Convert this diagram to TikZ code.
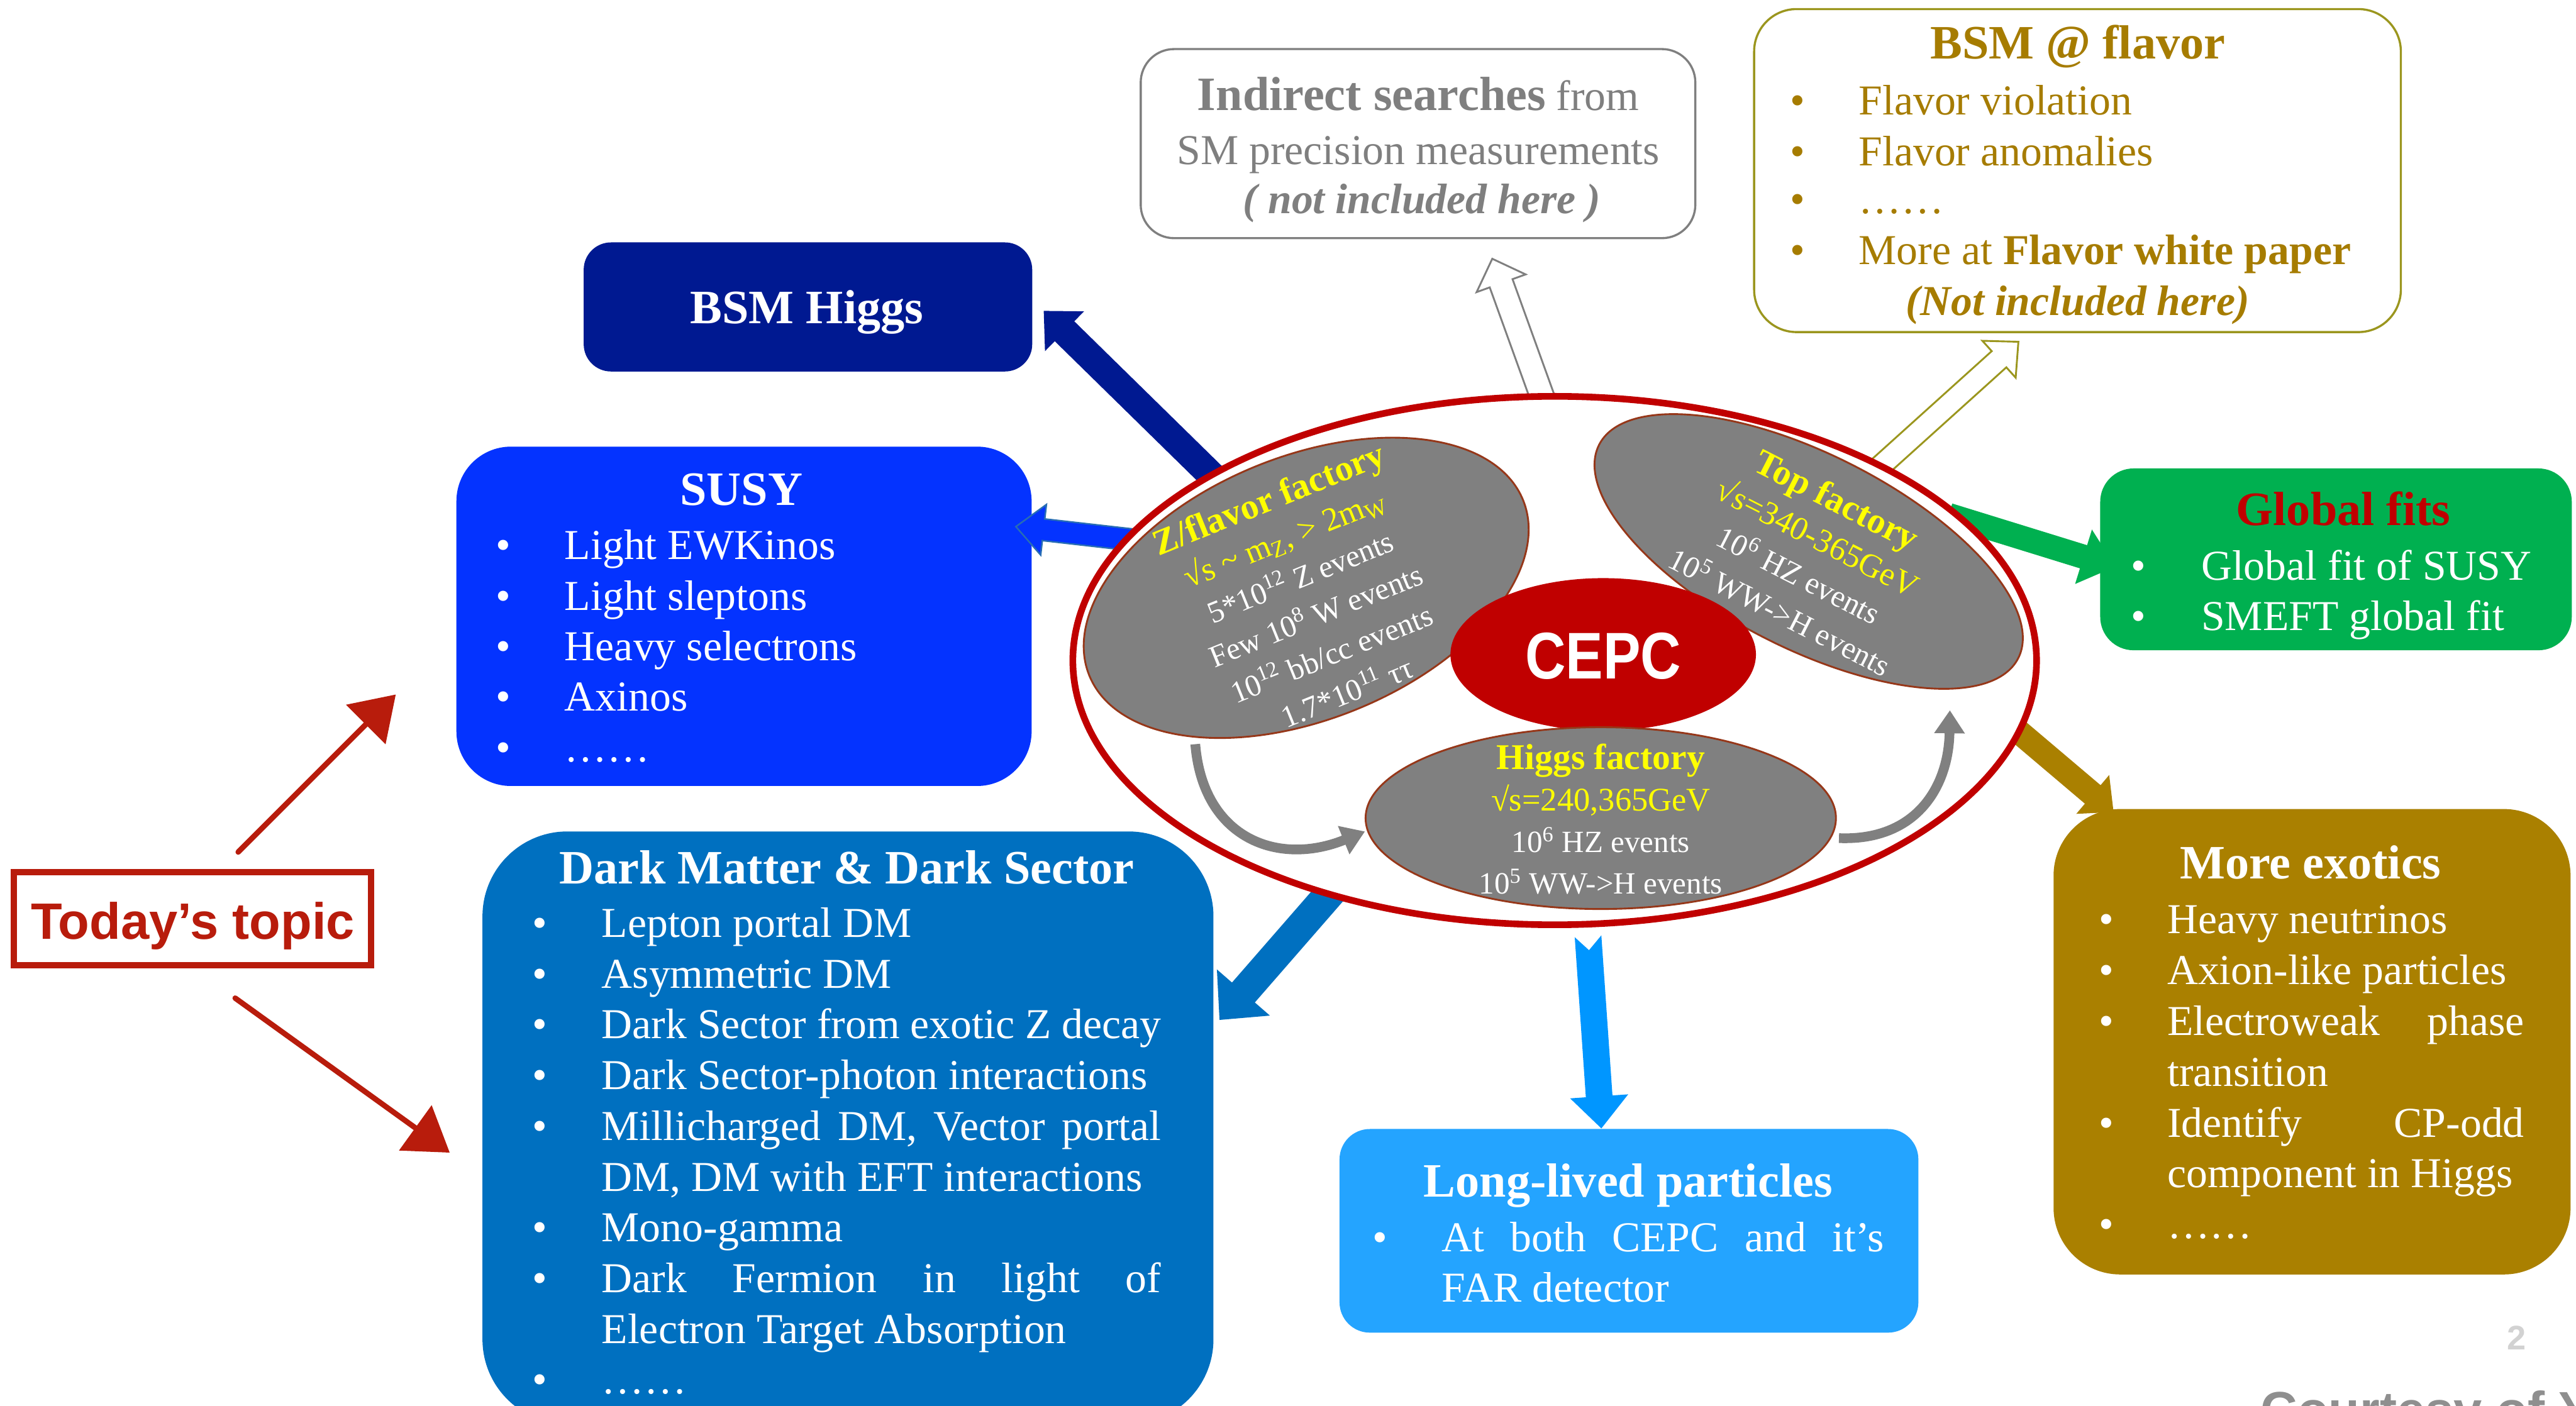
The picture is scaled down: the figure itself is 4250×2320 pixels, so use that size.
\documentclass[tikz,border=0pt]{standalone}
\usepackage{fontspec}
\usepackage{graphicx}
\setmainfont{Liberation Serif}
\newfontfamily\hsans{Liberation Sans}
\usetikzlibrary{calc,arrows.meta,shapes.geometric}

\definecolor{navyb}{RGB}{0,25,145}
\definecolor{susyblue}{RGB}{4,51,255}
\definecolor{susyedge}{RGB}{40,110,180}
\definecolor{dmblue}{RGB}{0,112,192}
\definecolor{llpbox}{RGB}{36,164,255}
\definecolor{llparr}{RGB}{0,150,255}
\definecolor{gfgreen}{RGB}{0,176,80}
\definecolor{exgold}{RGB}{170,128,0}
\definecolor{flavtext}{RGB}{166,124,0}
\definecolor{flavedge}{RGB}{155,150,30}
\definecolor{darkred}{RGB}{192,0,0}
\definecolor{indgray}{RGB}{127,127,127}
\definecolor{ellgray}{RGB}{128,128,128}
\definecolor{elledge}{RGB}{150,55,25}
\definecolor{topicred}{RGB}{184,28,12}
\definecolor{yel}{RGB}{255,255,0}
\definecolor{courtgray}{RGB}{143,143,143}

% block arrow: #1 tail, #2 tip, #3 shaft half width, #4 head half width, #5 head length, #6 tail notch, #7 style
\newcommand{\blockarrow}[7]{%
  \path[#7] ($(#1)!#3!90:(#2)$)
    -- ($($(#2)!#5!(#1)$)!#3!90:(#2)$)
    -- ($($(#2)!#5!(#1)$)!#4!90:(#2)$)
    -- (#2)
    -- ($($(#2)!#5!(#1)$)!#4!-90:(#2)$)
    -- ($($(#2)!#5!(#1)$)!#3!-90:(#2)$)
    -- ($(#1)!#3!-90:(#2)$)
    -- ($(#1)!#6!(#2)$)
    -- cycle;}
% bullet line: #1 name, #2 bullet x, #3 text x, #4 baseline y, #5 text
\newcommand{\bline}[5]{%
  \node[bul] (#1b) at (#2,#4) {•};
  \node[body] (#1) at (#3,#4) {#5};}

\begin{document}
\begin{tikzpicture}[x=0.1mm,y=-0.1mm,
  boxnode/.style={rectangle, inner sep=0pt},
  body/.style={inner sep=0pt, anchor=base west, font=\fontsize{20}{24}\selectfont},
  bul/.style={inner sep=0pt, anchor=base, font=\fontsize{20}{24}\selectfont},
  ttl/.style={inner sep=0pt, anchor=base, font=\fontsize{22.5}{27}\selectfont\bfseries},
  ctr/.style={inner sep=0pt, anchor=base, font=\fontsize{20}{24}\selectfont},
  ellnode/.style={ellipse, inner sep=0pt, fill=ellgray, draw=elledge, line width=0.3mm},
  elltext/.style={align=center, inner sep=0pt, text=white, font=\fontsize{14.5}{19.5}\selectfont},
  curvearr/.style={draw=ellgray, line width=1.6mm, -{Triangle[length=3.8mm,width=4.8mm]}},
  topicarr/.style={draw=topicred, line width=0.9mm, line cap=round, -{Triangle[length=7mm,width=9mm]}},
]
\clip (0,0) rectangle (4250,2320);
\fill[white] (0,0) rectangle (4250,2320);

% ---------- boxes ----------
\node[boxnode, fill=white, draw=indgray, line width=0.35mm, rounded corners=5.5mm,
      minimum width=91.5mm, minimum height=31.2mm] (ind) at (2339.5,237) {};
\node[boxnode, fill=white, draw=flavedge, line width=0.35mm, rounded corners=7mm,
      minimum width=106.7mm, minimum height=53.3mm] (flav) at (3427.5,281.5) {};
\node[boxnode, fill=navyb, rounded corners=4.5mm,
      minimum width=74mm, minimum height=21.3mm] (bsmh) at (1333,506.5) {};
\node[boxnode, fill=susyblue, rounded corners=9mm,
      minimum width=94.9mm, minimum height=56mm] (susy) at (1227.5,1017) {};
\node[boxnode, fill=gfgreen, rounded corners=5.5mm,
      minimum width=77.8mm, minimum height=30mm] (gfit) at (3854,923) {};
\node[boxnode, fill=exgold, rounded corners=11mm,
      minimum width=85.3mm, minimum height=76.8mm] (exo) at (3814.5,1719) {};
\node[boxnode, fill=llpbox, rounded corners=5mm,
      minimum width=95.5mm, minimum height=33.6mm] (llp) at (2687.5,2031) {};
\node[boxnode, fill=dmblue, rounded corners=14mm,
      minimum width=120.6mm, minimum height=97.8mm] (dm) at (1399,1861) {};

% ---------- block arrows ----------
\coordinate (a1s) at (2030,815);  \coordinate (a1e) at (1722,513);
\coordinate (a2s) at (1905,895);  \coordinate (a2e) at (1676,869);
\coordinate (a3s) at (2215,1450); \coordinate (a3e) at (2012,1683);
\coordinate (a4s) at (2620,1545); \coordinate (a4e) at (2642,1862);
\coordinate (a5s) at (3215,850);  \coordinate (a5e) at (3490,935);
\coordinate (a6s) at (3310,1190); \coordinate (a6e) at (3487,1340);
\coordinate (a7s) at (2548,665);  \coordinate (a7e) at (2462,427);
\coordinate (a8s) at (3085,785);  \coordinate (a8e) at (3330,564);
\blockarrow{a1s}{a1e}{2.3mm}{4.6mm}{4.8mm}{0mm}{fill=navyb}
\blockarrow{a2s}{a2e}{1.8mm}{4.2mm}{4.6mm}{0mm}{fill=susyblue, draw=susyedge, line width=0.25mm}
\blockarrow{a3s}{a3e}{2.5mm}{5.8mm}{6mm}{0mm}{fill=dmblue}
\blockarrow{a4s}{a4e}{2.2mm}{4.8mm}{5.3mm}{2.3mm}{fill=llparr}
\blockarrow{a5s}{a5e}{2.0mm}{4.7mm}{5.5mm}{0mm}{fill=gfgreen}
\blockarrow{a6s}{a6e}{2.0mm}{4.2mm}{4.5mm}{0mm}{fill=exgold}
\blockarrow{a7s}{a7e}{2.0mm}{4.3mm}{4.3mm}{0mm}{fill=white, draw=indgray, line width=0.3mm}
\blockarrow{a8s}{a8e}{1.8mm}{4.1mm}{4.3mm}{0mm}{fill=white, draw=flavedge, line width=0.3mm}

% ---------- central ring and ellipses ----------
\node[ellipse, fill=white, draw=darkred, line width=1.1mm, inner sep=0pt,
      minimum width=159mm, minimum height=87.2mm] (ring) at (2565,1090) {};
\node[ellnode, rotate=22, minimum width=77.2mm, minimum height=43.4mm] (zf) at (2155,970) {};
\node[ellnode, rotate=-27, minimum width=77.6mm, minimum height=32mm] (topf) at (2984,910) {};
\node[ellipse, fill=darkred, inner sep=0pt, minimum width=50.4mm, minimum height=25.2mm] (cepc) at (2645,1080) {};
\node[ellnode, minimum width=77.6mm, minimum height=30mm] (higf) at (2641,1350) {};

\node[text=white, inner sep=0pt, font=\hsans\bfseries\fontsize{31}{31}\selectfont] (cepct) at (2645,1083) {\scalebox{0.85}[1]{CEPC}};

\node[elltext, rotate=22] (zft) at (2157,981) {%
  {\color{yel}\fontsize{17}{19.5}\selectfont\bfseries Z/flavor factory}\\
  {\color{yel}\fontsize{15.5}{19.5}\selectfont √s \textasciitilde{} m\textsubscript{Z}, > 2m\textsubscript{W}}\\
  5*10\textsuperscript{12} Z events\\
  Few 10\textsuperscript{8} W events\\
  10\textsuperscript{12} bb/cc events\\
  1.7*10\textsuperscript{11} ττ};
\node[elltext, rotate=-27] (topt) at (2984,916) {%
  {\color{yel}\fontsize{17}{19.5}\selectfont\bfseries Top factory}\\
  {\color{yel}\fontsize{15.5}{19.5}\selectfont √s=340-365GeV}\\
  10\textsuperscript{6} HZ events\\
  10\textsuperscript{5} WW->H events};
\node[elltext] (higt) at (2641,1352) {%
  {\color{yel}\fontsize{17}{19.5}\selectfont\bfseries Higgs factory}\\
  {\color{yel}\fontsize{15.5}{19.5}\selectfont √s=240,365GeV}\\
  10\textsuperscript{6} HZ events\\
  10\textsuperscript{5} WW->H events};

% gray curved arrows
\coordinate (g1s) at (1972,1228); \coordinate (g1e) at (2252,1372);
\coordinate (g2s) at (3034,1383); \coordinate (g2e) at (3217,1172);
\draw[curvearr] (g1s) .. controls (1985,1385) and (2110,1430) .. (g1e);
\draw[curvearr] (g2s) .. controls (3160,1388) and (3215,1300) .. (g2e);

% ---------- texts in boxes ----------
\begin{scope}[every node/.append style={text=indgray}]
\node[ctr] (ind1) at (2340,182) {{\fontsize{22.5}{27}\selectfont\bfseries Indirect searches} from};
\node[ctr] (ind2) at (2340,271) {SM precision measurements};
\node[ctr] (ind3) at (2346,352) {\bfseries\itshape ( not included here )};
\end{scope}

\begin{scope}[every node/.append style={text=flavtext}]
\node[ttl] (flt) at (3428,97) {BSM @ flavor};
\bline{fl1}{2966}{3066}{189}{Flavor violation}
\bline{fl2}{2966}{3066}{273}{Flavor anomalies}
\bline{fl3}{2966}{3066}{352}{……}
\bline{fl4}{2966}{3066}{436}{More at \textbf{Flavor white paper}}
\node[ctr] (fl5) at (3428,520) {\bfseries\itshape (Not included here)};
\end{scope}

\begin{scope}[every node/.append style={text=white}]
\node[ttl] (bsmht) at (1331,534) {BSM Higgs};

\node[ttl] (sut) at (1223,834) {SUSY};
\bline{su1}{830}{931}{923}{Light EWKinos}
\bline{su2}{830}{931}{1006.5}{Light sleptons}
\bline{su3}{830}{931}{1090}{Heavy selectrons}
\bline{su4}{830}{931}{1173.5}{Axinos}
\bline{su5}{830}{931}{1257}{……}

\node[ttl, text=darkred] (gft) at (3866,867) {Global fits};
\bline{gf1}{3528}{3631}{957}{Global fit of SUSY}
\bline{gf2}{3528}{3631}{1040}{SMEFT global fit}

\node[ttl] (ext) at (3812,1450) {More exotics};
\bline{ex1}{3475}{3575}{1540}{Heavy neutrinos}
\bline{ex2}{3475}{3575}{1624}{Axion-like particles}
\bline{ex3}{3475}{3575}{1708}{\makebox[58.9mm][s]{Electroweak phase}}
\node[body] (ex4) at (3575,1792) {transition};
\bline{ex5}{3475}{3575}{1876}{\makebox[58.9mm][s]{Identify CP-odd}}
\node[body] (ex6) at (3575,1960) {component in Higgs};
\bline{ex7}{3475}{3575}{2044}{……}

\node[ttl] (llpt) at (2686,1975) {Long-lived particles};
\bline{llp1}{2277}{2378}{2065}{\makebox[73mm][s]{At both CEPC and it’s}}
\node[body] (llp2) at (2378,2148) {FAR detector};

\node[ttl] (dmt) at (1397,1458) {Dark Matter \& Dark Sector};
\bline{dm1}{891}{992}{1547}{Lepton portal DM}
\bline{dm2}{891}{992}{1631}{Asymmetric DM}
\bline{dm3}{891}{992}{1714}{Dark Sector from exotic Z decay}
\bline{dm4}{891}{992}{1798}{Dark Sector-photon interactions}
\bline{dm5}{891}{992}{1882}{\makebox[92.3mm][s]{Millicharged DM, Vector portal}}
\node[body] (dm6) at (992,1966) {DM, DM with EFT interactions};
\bline{dm7}{891}{992}{2049}{Mono-gamma}
\bline{dm8}{891}{992}{2133}{\makebox[92.3mm][s]{Dark Fermion in light of}}
\node[body] (dm9) at (992,2217) {Electron Target Absorption};
\bline{dm10}{891}{992}{2300}{……}
\end{scope}

% ---------- Today's topic ----------
\node[boxnode, draw=topicred, line width=1mm, minimum width=58.9mm, minimum height=15.4mm] (topic) at (317.5,1516) {};
\node[inner sep=0pt, anchor=base, text=topicred, font=\hsans\bfseries\fontsize{24}{28}\selectfont] (topict) at (318,1550) {Today’s topic};
\coordinate (t1s) at (393,1406); \coordinate (t1e) at (653,1146);
\coordinate (t2s) at (388,1647); \coordinate (t2e) at (742,1902);
\draw[topicarr] (t1s) -- (t1e);
\draw[topicarr] (t2s) -- (t2e);

% ---------- footer ----------
\node[inner sep=0pt, anchor=base, text=gray!35, font=\hsans\bfseries\fontsize{16}{18}\selectfont] (pnum) at (4152,2227) {2};
\node[inner sep=0pt, anchor=base west, text=courtgray, font=\hsans\bfseries\fontsize{24}{28}\selectfont] (court) at (3729,2356) {Courtesy of Y};
\end{tikzpicture}
\end{document}
